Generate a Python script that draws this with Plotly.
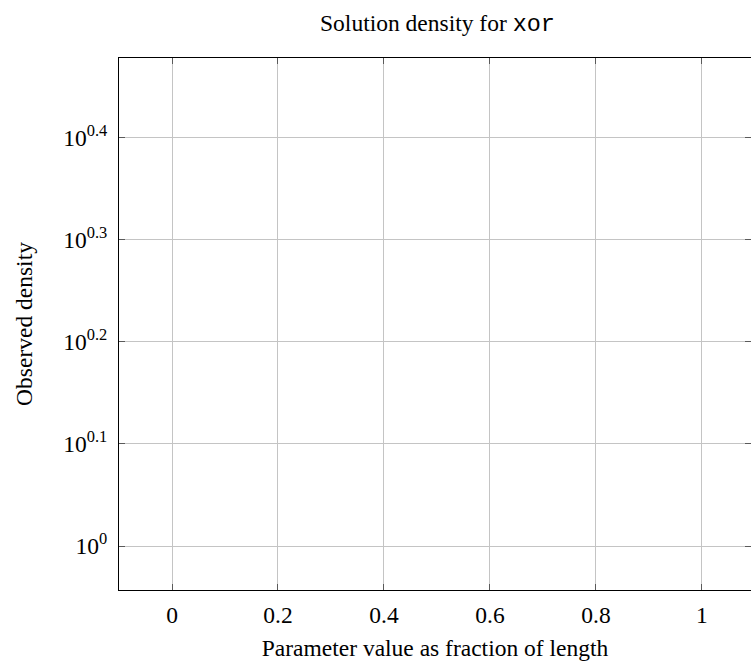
import plotly.graph_objects as go

title_text = "Solution density for <span style='font-family:Liberation Mono'>xor</span>"
x_label = "Parameter value as fraction of length"
y_label = "Observed density"
x_ticks = [0, 0.2, 0.4, 0.6, 0.8, 1]
x_tick_labels = ["0", "0.2", "0.4", "0.6", "0.8", "1"]
y_tick_exponents = [0, 0.1, 0.2, 0.3, 0.4]
y_tick_labels = ["10<sup>0</sup>", "10<sup>0.1</sup>", "10<sup>0.2</sup>", "10<sup>0.3</sup>", "10<sup>0.4</sup>"]
x_range = [-0.1, 1.0925]
y_log_range = [-0.043, 0.478]

y_tick_vals = [10 ** e for e in y_tick_exponents]

FONT = "Liberation Serif"
FS = 23.5
GRID = "#c4c4c4"
TICKC = "#5a5a5a"

fig = go.Figure()
fig.add_trace(go.Scatter(x=[], y=[], mode="lines", showlegend=False))
fig.add_trace(go.Scatter(x=[], y=[], mode="lines", showlegend=False, yaxis="y2"))

fig.update_layout(
    width=751, height=666,
    margin=dict(l=119, r=0, t=58, b=76, autoexpand=False),
    paper_bgcolor="white", plot_bgcolor="white",
    font=dict(family=FONT, size=FS, color="black"),
    title=dict(text=title_text, x=(119 + 756) / 2 / 751, xanchor="center",
               y=1 - 23 / 666, yanchor="middle", font=dict(family=FONT, size=FS)),
    showlegend=False,
    xaxis=dict(
        range=x_range, tickvals=x_ticks, ticktext=x_tick_labels,
        showgrid=True, gridcolor=GRID, gridwidth=1, zeroline=False,
        showline=True, linecolor="black", linewidth=1, mirror="ticks",
        ticks="inside", ticklen=6, tickcolor=TICKC, tickwidth=1,
        ticklabelstandoff=4,
        tickfont=dict(family=FONT, size=FS),
        title=dict(text=x_label, font=dict(family=FONT, size=FS), standoff=12),
        automargin=False,
    ),
    yaxis=dict(
        type="log", range=y_log_range, tickvals=y_tick_vals, ticktext=y_tick_labels,
        showgrid=True, gridcolor=GRID, gridwidth=1, zeroline=False,
        showline=True, linecolor="black", linewidth=1, mirror=False,
        ticks="inside", ticklen=6, tickcolor=TICKC, tickwidth=1,
        ticklabelstandoff=6,
        tickfont=dict(family=FONT, size=FS),
        title=dict(text=y_label, font=dict(family=FONT, size=FS), standoff=24),
        automargin=False,
    ),
    yaxis2=dict(
        type="log", range=y_log_range, tickvals=y_tick_vals,
        overlaying="y", side="right", anchor="x",
        showgrid=False, zeroline=False, showline=False, showticklabels=False,
        ticks="inside", ticklen=6, tickcolor=TICKC, tickwidth=1,
        automargin=False,
    ),
)

fig.write_html(
    "out.html",
    config={"displayModeBar": False},
    post_script="document.body.style.margin='0';document.body.style.overflow='hidden';"
    "document.documentElement.style.overflow='hidden';",
)
